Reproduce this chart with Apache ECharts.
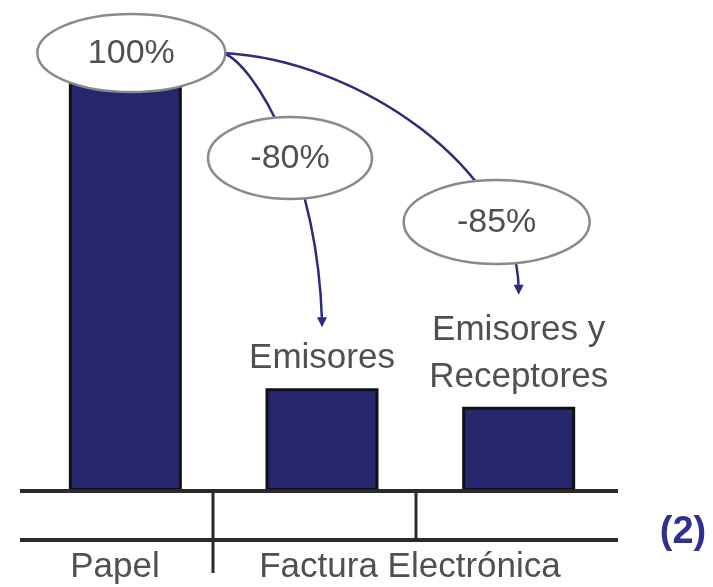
<!DOCTYPE html>
<html><head><meta charset="utf-8">
<script src="https://cdn.jsdelivr.net/npm/echarts@6/dist/echarts.min.js"></script>
<style>html,body{margin:0;padding:0;background:#fff}#c{width:713px;height:587px}</style>
</head><body><div id="c"></div>
<script>
const categories = ['Papel', 'Emisores', 'Emisores y Receptores'];
const values = [100, 25, 20.5];
const barLabels = ['', 'Emisores', 'Emisores y\nReceptores'];
const bubbleLabels = ['100%', '-80%', '-85%'];
const groupLabels = ['Papel', 'Factura Electrónica'];
const note = '(2)';

const FONT = "'Liberation Sans', Arial, sans-serif";
const TXT = '#505050';
const NAVY = '#27276f';
const ARROW = '#2c2c7c';
const LINE = '#2a2a2a';

const chart = echarts.init(document.getElementById('c'));
chart.setOption({
  animation: false,
  backgroundColor: '#fff',
  grid: { left: 27, right: 96, top: 80, bottom: 96 },
  xAxis: {
    type: 'category', data: categories,
    axisLine: { show: false }, axisTick: { show: false }, axisLabel: { show: false }
  },
  yAxis: {
    type: 'value', min: 0, max: 100,
    axisLine: { show: false }, axisTick: { show: false }, axisLabel: { show: false }, splitLine: { show: false }
  },
  series: [{
    type: 'bar', data: values, barWidth: 113,
    itemStyle: { color: NAVY, borderColor: '#111', borderWidth: 3 },
    label: {
      show: true, position: 'top', distance: 6,
      formatter: p => barLabels[p.dataIndex],
      fontFamily: FONT, fontSize: 35, color: TXT, lineHeight: 47
    }
  }]
});

function px(i, v) { return chart.convertToPixel({ seriesIndex: 0 }, [i, v]); }
const b0 = px(0, values[0]), b1 = px(1, values[1]), b2 = px(2, values[2]);
const base = px(0, 0)[1];
const e0 = { cx: b0[0] + 6, cy: 53, rx: 94, ry: 39 };
const e1 = { cx: b1[0] - 32, cy: 158, rx: 82, ry: 41 };
const e2 = { cx: b2[0] - 22, cy: 222, rx: 93, ry: 42 };
const end1 = [b1[0], b1[1] - 62];
const end2 = [b2[0], b2[1] - 113];
const start = [e0.cx + e0.rx - 2, e0.cy];

function ellipse(e, text) {
  return [
    { type: 'ellipse', z: 20, shape: e, style: { fill: '#fff', stroke: '#8a8a8a', lineWidth: 2.5 } },
    { type: 'text', z: 21, x: e.cx, y: e.cy + 1, style: { text: text, fill: TXT, font: '34px ' + FONT, align: 'center', verticalAlign: 'middle' } }
  ];
}
function head(p) {
  return { type: 'polygon', z: 12, shape: { points: [[p[0] - 5, p[1] - 9], [p[0] + 5, p[1] - 9], [p[0], p[1] + 1]] }, style: { fill: ARROW } };
}

const g = [
  { type: 'bezierCurve', z: 10, shape: { x1: start[0], y1: start[1], cpx1: 255, cpy1: 65, cpx2: end1[0] - 5, cpy2: 170, x2: end1[0], y2: end1[1] - 6 }, style: { stroke: ARROW, lineWidth: 2.5, fill: null } },
  { type: 'bezierCurve', z: 10, shape: { x1: start[0], y1: start[1], cpx1: 360, cpy1: 60, cpx2: end2[0] - 3, cpy2: 170, x2: end2[0], y2: end2[1] - 6 }, style: { stroke: ARROW, lineWidth: 2.5, fill: null } },
  head(end1), head(end2),
  ...ellipse(e0, bubbleLabels[0]),
  ...ellipse(e1, bubbleLabels[1]),
  ...ellipse(e2, bubbleLabels[2]),
  { type: 'line', z: 5, shape: { x1: 20, y1: base, x2: 618, y2: base }, style: { stroke: LINE, lineWidth: 4 } },
  { type: 'line', z: 5, shape: { x1: 20, y1: 540, x2: 618, y2: 540 }, style: { stroke: LINE, lineWidth: 4 } },
  { type: 'line', z: 5, shape: { x1: 213, y1: base, x2: 213, y2: 573 }, style: { stroke: LINE, lineWidth: 3 } },
  { type: 'line', z: 5, shape: { x1: 416, y1: base, x2: 416, y2: 540 }, style: { stroke: LINE, lineWidth: 3 } },
  { type: 'text', x: 115, y: 567, style: { text: groupLabels[0], fill: TXT, font: '35px ' + FONT, align: 'center', verticalAlign: 'middle' } },
  { type: 'text', x: 410, y: 567, style: { text: groupLabels[1], fill: TXT, font: '35px ' + FONT, align: 'center', verticalAlign: 'middle' } },
  { type: 'text', x: 683, y: 533, style: { text: note, fill: '#2e3192', font: 'bold 38px ' + FONT, align: 'center', verticalAlign: 'middle' } }
];
chart.setOption({ graphic: g });
</script></body></html>
